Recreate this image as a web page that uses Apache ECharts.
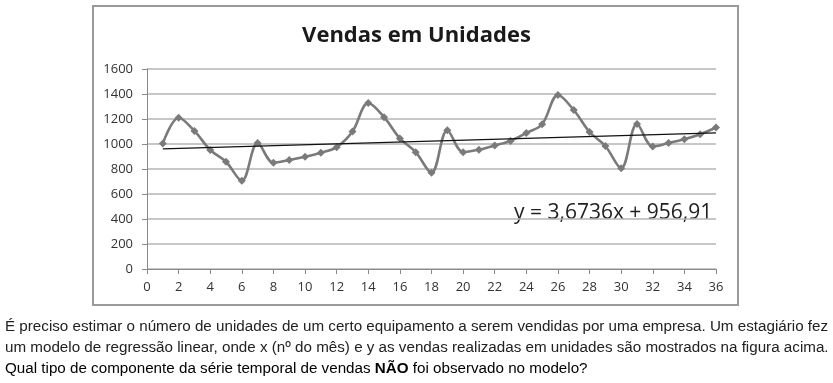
<!DOCTYPE html>
<html>
<head>
<meta charset="utf-8">
<script src="https://cdn.jsdelivr.net/npm/echarts@6/dist/echarts.min.js"></script>
<style>
html,body{margin:0;padding:0;background:#fff;}
#c{width:833px;height:383px;}
</style>
</head>
<body>
<div id="c"></div>
<script>
// Data
const months = [1,2,3,4,5,6,7,8,9,10,11,12,13,14,15,16,17,18,19,20,21,22,23,24,25,26,27,28,29,30,31,32,33,34,35,36];
const sales = [1005,1210,1105,952,858,706,1008,850,872,898,930,975,1100,1328,1215,1045,935,770,1110,935,955,988,1025,1088,1158,1392,1272,1096,984,806,1160,980,1008,1038,1078,1132];
const trendX = [1, 36];
const trendY = [960.6, 1089.2];
const yTicks = [0,200,400,600,800,1000,1200,1400,1600];
const xTicks = [0,2,4,6,8,10,12,14,16,18,20,22,24,26,28,30,32,34,36];
const titleText = 'Vendas em Unidades';
const equationText = 'y = 3,6736x + 956,91';
const paraLine1 = 'É preciso estimar o número de unidades de um certo equipamento a serem vendidas por uma empresa. Um estagiário fez';
const paraLine2 = 'um modelo de regressão linear, onde x (nº do mês) e y as vendas realizadas em unidades são mostrados na figura acima.';
const paraLine3a = 'Qual tipo de componente da série temporal de vendas ';
const paraLine3b = 'NÃO';
const paraLine3c = ' foi observado no modelo?';

const chart = echarts.init(document.getElementById('c'), null, {renderer:'canvas'});
const lblFont = 'Open Sans';
chart.setOption({
  animation:false,
  backgroundColor:'#fff',
  title:{
    text:titleText, left:'center', top:20,
    textStyle:{fontFamily:'Open Sans', fontWeight:'bold', fontSize:22, color:'#1a1a1a'}
  },
  grid:{left:147, right:117, top:69, bottom:114},
  xAxis:{
    type:'value', min:xTicks[0], max:xTicks[xTicks.length-1], interval:2,
    axisLine:{lineStyle:{color:'#8a8a8a', width:1}},
    axisTick:{show:true, length:5, lineStyle:{color:'#8a8a8a'}},
    splitLine:{show:false},
    axisLabel:{fontFamily:lblFont, fontSize:13, color:'#333', margin:12, formatter:v=>String(v)}
  },
  yAxis:{
    type:'value', min:yTicks[0], max:yTicks[yTicks.length-1], interval:200,
    axisLine:{show:true, lineStyle:{color:'#8a8a8a', width:1}},
    axisTick:{show:true, length:5, lineStyle:{color:'#8a8a8a'}},
    splitLine:{show:true, lineStyle:{color:'#b4b4b4', width:1.5}},
    axisLabel:{fontFamily:lblFont, fontSize:13, color:'#333', margin:14, formatter:v=>String(v)}
  },
  series:[
    {
      type:'line', data:months.map((m,i)=>[m, sales[i]]),
      smooth:0.35, symbol:'diamond', symbolSize:8,
      lineStyle:{color:'#7a7a7a', width:2.6},
      itemStyle:{color:'#7a7a7a'}, z:3
    },
    {
      type:'line', data:trendX.map((x,i)=>[x, trendY[i]]),
      symbol:'none', lineStyle:{color:'#111', width:1.2}, z:4
    }
  ],
  graphic:[
    {type:'rect', shape:{x:93, y:6, width:645, height:299}, style:{fill:'none', stroke:'#9a9a9a', lineWidth:2}, z:-1},
    {type:'text', left:514, top:203, style:{text:equationText, fontFamily:'Open Sans', fontSize:21, fill:'#222'}},
    {type:'text', left:5, top:319, style:{text:paraLine1, fontFamily:'Liberation Sans', fontSize:15.2, fill:'#222'}},
    {type:'text', left:5, top:340, style:{text:paraLine2, fontFamily:'Liberation Sans', fontSize:15.2, fill:'#222'}},
    {type:'text', left:5, top:361, style:{
      text:'{n|'+paraLine3a+'}{b|'+paraLine3b+'}{n|'+paraLine3c+'}',
      rich:{
        n:{fontFamily:'Liberation Sans', fontSize:15.2, color:'#222'},
        b:{fontFamily:'Liberation Sans', fontSize:15.2, fontWeight:'bold', color:'#222'}
      }
    }}
  ]
});
</script>
</body>
</html>
